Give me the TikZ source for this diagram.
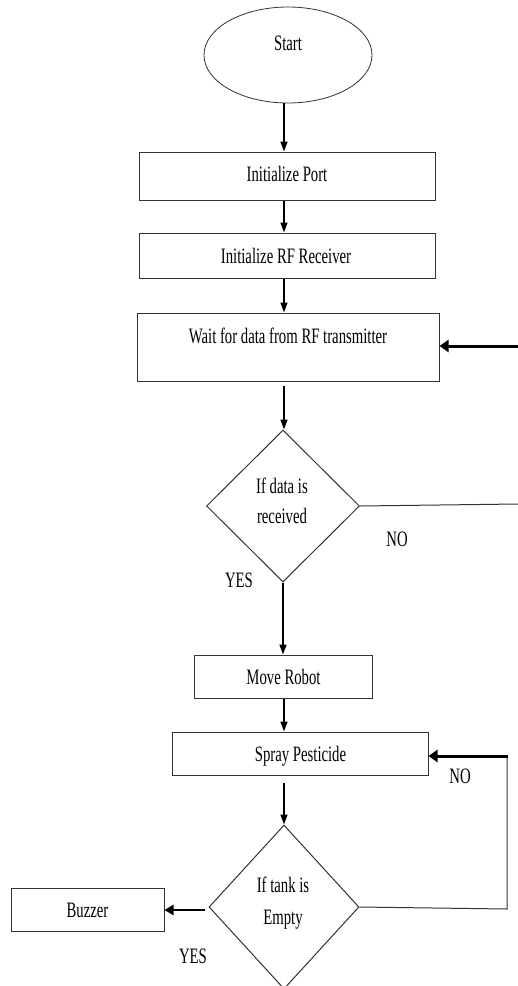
\documentclass[tikz,border=0pt]{standalone}
\usepackage{fontspec}
\setmainfont[FakeStretch=0.67]{Liberation Serif}
\usetikzlibrary{shapes.geometric,arrows.meta}
\begin{document}
\begin{tikzpicture}[x=1pt,y=-1pt,
  txt/.style={font=\fontsize{22}{30}\selectfont, inner sep=0, text height=15pt, text depth=0pt},
  box/.style={draw=black!80, line width=1pt, inner sep=0, rectangle},
  dia/.style={draw=black!80, line width=1pt, inner sep=0, diamond},
  arr/.style={draw=black, line width=1.5pt, -{Triangle[width=7pt,length=10pt]}},
  thickarr/.style={draw=black, line width=3pt, -{Triangle[width=12pt,length=9pt]}},
  midarr/.style={draw=black, line width=2.2pt, -{Triangle[width=10pt,length=9pt]}},
  plain/.style={draw=black!80, line width=1pt}]
\fill[white] (0,0) rectangle (518,986);
\useasboundingbox (0,0) rectangle (518,986);
\coordinate (ax) at (284,0);

% nodes
\node[ellipse, draw=black!80, line width=0.8pt, minimum width=168pt, minimum height=96pt, inner sep=0] (start) at (288,55) {};
\node[txt] (starttext) at (288,43) {Start};

\node[box, minimum width=296pt, minimum height=48pt] (port) at (287,176) {};
\node[txt] (porttext) at (287,174) {Initialize Port};

\node[box, minimum width=296pt, minimum height=45pt] (rf) at (287,255.5) {};
\node[txt] (rftext) at (286,256) {Initialize RF Receiver};

\node[box, minimum width=302pt, minimum height=68pt] (wait) at (288,347) {};
\node[txt] (waittext) at (288,336) {Wait for data from RF transmitter};

\node[dia, minimum width=153pt, minimum height=152pt] (d1) at (283,506) {};
\node[txt] (d1a) at (282,486) {If data is};
\node[txt] (d1b) at (282,516) {received};

\node[box, minimum width=178pt, minimum height=43pt] (move) at (283,676.5) {};
\node[txt] (movetext) at (283.5,677) {Move Robot};

\node[box, minimum width=256pt, minimum height=43pt] (spray) at (300,753.5) {};
\node[txt] (spraytext) at (300.5,754) {Spray Pesticide};

\node[dia, minimum width=150pt, minimum height=164pt] (d2) at (284,907) {};
\node[txt] (d2a) at (283,885) {If tank is};
\node[txt] (d2b) at (283,917) {Empty};

\node[box, minimum width=153pt, minimum height=43pt] (buzzer) at (87.5,909.5) {};
\node[txt] (buzzertext) at (87.5,910) {Buzzer};

% labels
\node[txt] (no1) at (397,539) {NO};
\node[txt] (yes1) at (239,580) {YES};
\node[txt] (no2) at (460,776) {NO};
\node[txt] (yes2) at (193,956) {YES};

% connectors
\draw[arr] (start.south -| ax) -- (port.north -| ax);
\draw[arr] (port.south -| ax) -- (rf.north -| ax);
\draw[arr] (rf.south -| ax) -- (wait.north -| ax);
\draw[arr] ([yshift=-4pt]wait.south -| ax) -- (d1.north -| ax);
\draw[arr] (d1.south) -- (d1.south |- move.north);
\draw[arr] (move.south -| ax) -- (spray.north -| ax);
\draw[arr] ([yshift=-7pt]spray.south -| ax) -- (d2.north);

\coordinate (r1) at (518,504);
\coordinate (r2) at (518,346);
\draw[plain] (d1.east) -- (r1);
\draw[thickarr] (r2) -- (wait.east |- r2);

\coordinate (c1) at (507,909);
\coordinate (c2) at (507,756);
\draw[plain] (d2.east) -- (c1) -- (c2);
\draw[thickarr] ([xshift=1pt]c2) -- (spray.east |- c2);

\coordinate (bw) at (205,910);
\draw[midarr] (bw) -- (buzzer.east |- bw);
\end{tikzpicture}
\end{document}
